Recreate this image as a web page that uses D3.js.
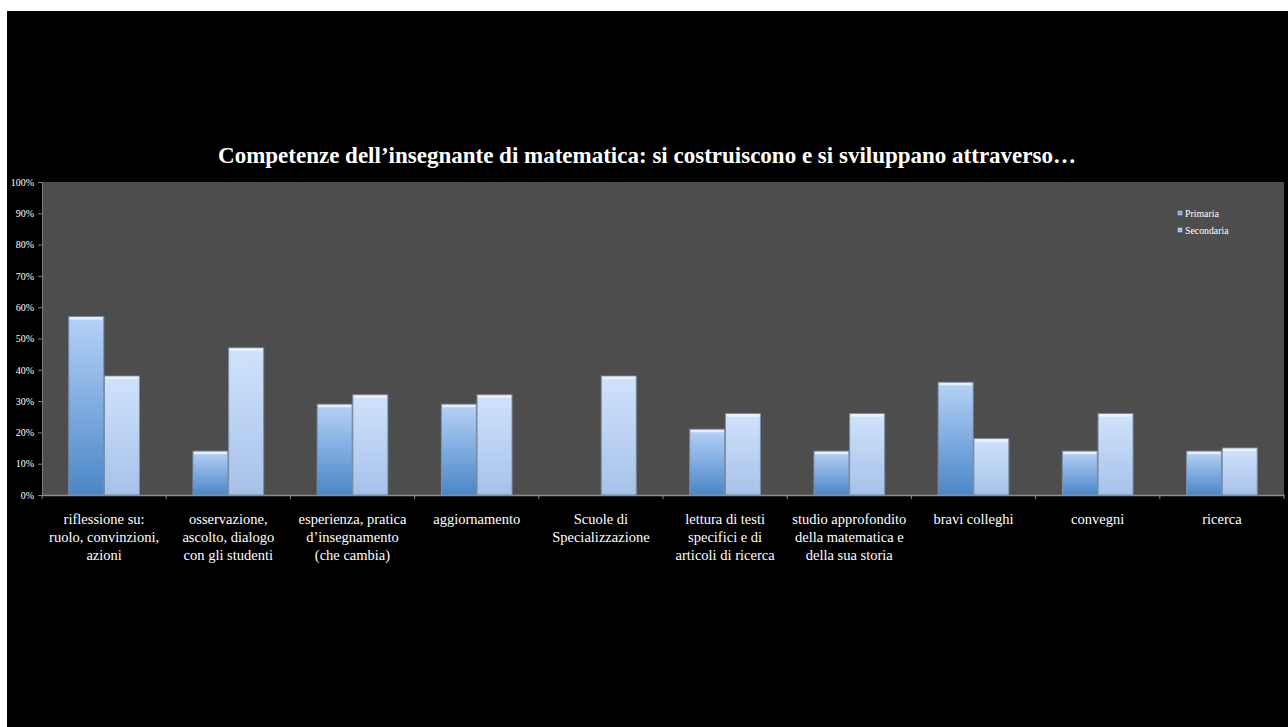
<!DOCTYPE html>
<html><head><meta charset="utf-8">
<script src="https://cdn.jsdelivr.net/npm/d3@7"></script>
<style>html,body{margin:0;padding:0;background:#fff;}svg{display:block;}</style>
</head><body>
<svg id="chart" width="1288" height="727"></svg>
<script>
const categories = [
  ["riflessione su:", "ruolo, convinzioni,", "azioni"],
  ["osservazione,", "ascolto, dialogo", "con gli studenti"],
  ["esperienza, pratica", "d\u2019insegnamento", "(che cambia)"],
  ["aggiornamento"],
  ["Scuole di", "Specializzazione"],
  ["lettura di testi", "specifici e di", "articoli di ricerca"],
  ["studio approfondito", "della matematica e", "della sua storia"],
  ["bravi colleghi"],
  ["convegni"],
  ["ricerca"]
];
const seriesNames = ["Primaria", "Secondaria"];
const primaria   = [57, 14, 29, 29, 0, 21, 14, 36, 14, 14];
const secondaria = [38, 47, 32, 32, 38, 26, 26, 18, 26, 15];
const yTicks = [0, 10, 20, 30, 40, 50, 60, 70, 80, 90, 100];
const titleText = "Competenze dell\u2019insegnante di matematica: si costruiscono e si sviluppano attraverso\u2026";

const svg = d3.select("#chart");
const W = 1288, H = 727;
const serif = "'Liberation Serif','Times New Roman',serif";

svg.append("rect").attr("x", 7).attr("y", 11).attr("width", W - 7).attr("height", H - 11).attr("fill", "#000");

const plot = {left: 42, right: 1284, top: 182, bottom: 495};
const keys = categories.map((c, i) => i);

const x0 = d3.scaleBand().domain(keys).range([plot.left, plot.right]).padding(0);
const x1 = d3.scaleBand().domain(seriesNames).range([0, x0.bandwidth()]).paddingInner(0.02).paddingOuter(0.75);
const y = d3.scaleLinear().domain([0, 100]).range([plot.bottom, plot.top]);

// gradients
const defs = svg.append("defs");
const g1 = defs.append("linearGradient").attr("id", "gPrim").attr("x1", 0).attr("y1", 0).attr("x2", 0).attr("y2", 1);
g1.append("stop").attr("offset", "0%").attr("stop-color", "#b6d2f8");
g1.append("stop").attr("offset", "100%").attr("stop-color", "#4a86c7");
const g2 = defs.append("linearGradient").attr("id", "gSec").attr("x1", 0).attr("y1", 0).attr("x2", 0).attr("y2", 1);
g2.append("stop").attr("offset", "0%").attr("stop-color", "#d0e3fd");
g2.append("stop").attr("offset", "100%").attr("stop-color", "#a6c1e9");
const fills = {Primaria: "url(#gPrim)", Secondaria: "url(#gSec)"};
const legendFill = {Primaria: "#7fa9df", Secondaria: "#9dbbe6"};

// plot background
svg.append("rect").attr("x", plot.left).attr("y", plot.top)
  .attr("width", plot.right - plot.left).attr("height", plot.bottom - plot.top).attr("fill", "#4d4d4d");

// Title
svg.append("text").attr("x", 647).attr("y", 163).attr("text-anchor", "middle")
  .attr("font-family", serif).attr("font-weight", "bold").attr("font-size", 23).attr("fill", "#fff")
  .text(titleText);

// bars
const rows = keys.map(i => ({i, vals: [{s: "Primaria", v: primaria[i]}, {s: "Secondaria", v: secondaria[i]}]}));
const groups = svg.append("g").selectAll("g").data(rows).join("g")
  .attr("transform", d => `translate(${x0(d.i)},0)`);
const bars = groups.selectAll("g.bar").data(d => d.vals.filter(v => v.v > 0)).join("g").attr("class", "bar");
bars.append("rect")
  .attr("x", d => x1(d.s)).attr("y", d => y(d.v))
  .attr("width", x1.bandwidth()).attr("height", d => y(0) - y(d.v))
  .attr("fill", d => fills[d.s]).attr("stroke", "#7d8fa8").attr("stroke-width", 1);
bars.append("rect")
  .attr("x", d => x1(d.s) + 1).attr("y", d => y(d.v) + 0.5)
  .attr("width", x1.bandwidth() - 2).attr("height", 2.5)
  .attr("fill", "#eef5ff").attr("opacity", 0.85);

// y axis
const yAxis = d3.axisLeft(y).tickValues(yTicks).tickSize(4).tickFormat(d => d + "%");
const ya = svg.append("g").attr("transform", `translate(${plot.left},0)`).call(yAxis);
ya.select(".domain").attr("stroke", "#7f7f7f");
ya.selectAll(".tick line").attr("stroke", "#7f7f7f");
ya.selectAll(".tick text").attr("fill", "#fff").attr("font-family", serif).attr("font-size", 10)
  .attr("x", -8);

// x axis
const xAxis = d3.axisBottom(x0).tickSize(0).tickFormat("");
const xa = svg.append("g").attr("transform", `translate(0,${plot.bottom})`).call(xAxis);
xa.select(".domain").attr("stroke", "#8c8c8c").attr("stroke-width", 1.5);
// boundary tick marks
const bounds = keys.map(i => x0(i)).concat([plot.right]);
xa.selectAll("line.bt").data(bounds).join("line").attr("class", "bt")
  .attr("x1", d => d).attr("x2", d => d).attr("y1", 0).attr("y2", 4).attr("stroke", "#8c8c8c");

// x labels
const lab = svg.append("g").selectAll("text").data(keys).join("text")
  .attr("x", i => x0(i) + x0.bandwidth() / 2).attr("y", 524)
  .attr("text-anchor", "middle").attr("font-family", serif).attr("font-size", 14.5).attr("fill", "#fff");
lab.selectAll("tspan").data(i => categories[i].map((t, k) => ({t, k, i}))).join("tspan")
  .attr("x", d => x0(d.i) + x0.bandwidth() / 2).attr("dy", d => d.k === 0 ? 0 : 18).text(d => d.t);

// legend
const leg = svg.append("g").selectAll("g").data(seriesNames).join("g")
  .attr("transform", (d, k) => `translate(1178,${211 + k * 17})`);
leg.append("rect").attr("x", 0).attr("y", 0).attr("width", 4).attr("height", 4)
  .attr("fill", d => legendFill[d]).attr("stroke", "#cfe0f8").attr("stroke-width", 0.5);
leg.append("text").attr("x", 7).attr("y", 5.5).attr("font-family", serif).attr("font-size", 9.8)
  .attr("fill", "#fff").text(d => d);
</script>
</body></html>
